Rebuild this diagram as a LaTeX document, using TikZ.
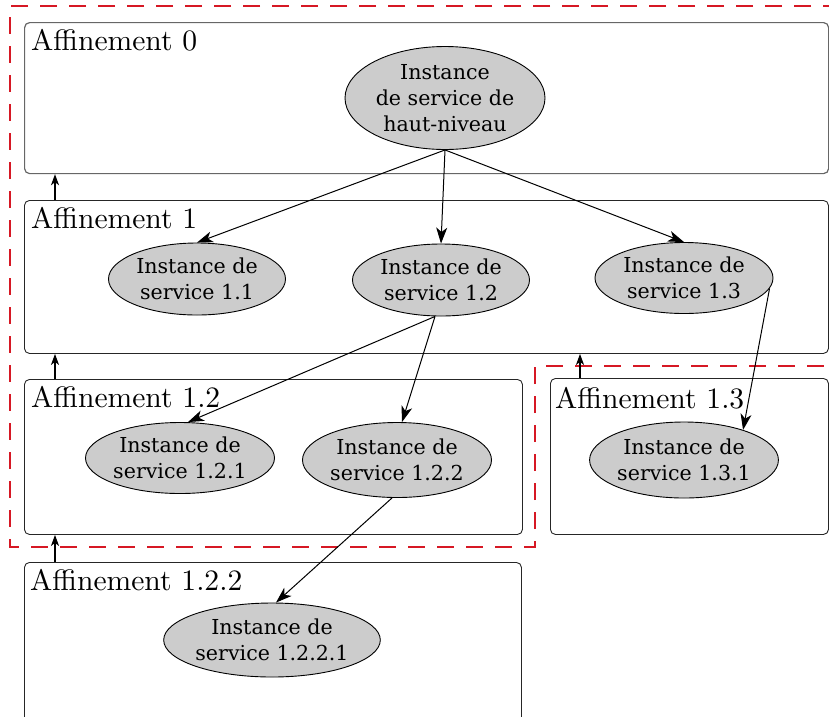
\documentclass[tikz,border=0pt]{standalone}
\usepackage{fontspec}
\newfontfamily\ellfont{DejaVu Serif}
\newfontfamily\lmten{lmroman10-regular.otf}
\usetikzlibrary{shapes.geometric,arrows.meta}
\definecolor{dashred}{RGB}{214,24,36}
\begin{document}
\begin{tikzpicture}[x=1pt,y=-1pt,
  level/.style={draw=black!85, line width=0.9pt, rounded corners=5pt, anchor=north west, inner sep=0pt},
  lvlabel/.style={anchor=base west, inner sep=0pt, font=\lmten\fontsize{29.6}{35}\selectfont},
  inst/.style={ellipse, draw=black, line width=0.9pt, fill=black!20, inner sep=0pt, align=center, font=\ellfont\fontsize{20.6}{26}\selectfont},
  link/.style={-{Stealth[length=16pt,width=11pt,inset=4.5pt]}, line width=1pt},
  upward/.style={-{Stealth[length=11pt,width=8pt,inset=3pt]}, line width=1.3pt},
  zone/.style={draw=dashred, line width=1.3pt, dash pattern=on 17pt off 12pt}]
\useasboundingbox (0,0) rectangle (829,716);
\clip (0,0) rectangle (829,716);

% red dashed zone
\draw[zone] (840,6) -- (10,6) -- (10,547) -- (535,547) -- (535,366) -- (840,366);

% refinement boxes
\node[level, draw=black!60, line width=1.2pt, minimum width=804pt, minimum height=151pt] (b0) at (24,22) {};
\node[level, minimum width=804pt, minimum height=153pt] (b1) at (24,200) {};
\node[level, minimum width=498pt, minimum height=155pt] (b12) at (24,379) {};
\node[level, minimum width=278pt, minimum height=156pt] (b13) at (550,378) {};
\node[level, minimum width=497pt, minimum height=200pt] (b122) at (24,562) {};

% labels
\node[lvlabel] (l0) at (31,50) {Affinement 0};
\node[lvlabel] (l1) at (31,228) {Affinement 1};
\node[lvlabel] (l12) at (31,407) {Affinement 1.2};
\node[lvlabel] (l13) at (555,408) {Affinement 1.3};
\node[lvlabel] (l122) at (30,590) {Affinement 1.2.2};

% upward arrows between boxes
\draw[upward] ([xshift=31pt]b1.north west) -- ([xshift=31pt]b1.north west |- b0.south);
\draw[upward] ([xshift=31pt]b12.north west) -- ([xshift=31pt]b12.north west |- b1.south);
\draw[upward] ([xshift=31pt]b122.north west) -- ([xshift=31pt]b122.north west |- b12.south);
\draw[upward] ([xshift=30pt]b13.north west) -- ([xshift=30pt]b13.north west |- b1.south);

% service instances
\node[inst, minimum width=200pt, minimum height=103pt] (top) at (445,98) {Instance\\de service de\\haut-niveau};
\node[inst, minimum width=177pt, minimum height=72pt] (n11) at (197,279) {Instance de\\service 1.1};
\node[inst, minimum width=177pt, minimum height=72pt] (n12) at (441,280) {Instance de\\service 1.2};
\node[inst, minimum width=178pt, minimum height=71pt] (n13) at (684,278) {Instance de\\service 1.3};
\node[inst, minimum width=189pt, minimum height=71pt] (n121) at (180,458) {Instance de\\service 1.2.1};
\node[inst, minimum width=189pt, minimum height=75pt] (n122) at (397,460) {Instance de\\service 1.2.2};
\node[inst, minimum width=177pt, minimum height=76pt] (n131) at (684,460) {Instance de\\service 1.3.1};
\node[inst, minimum width=208pt, minimum height=74pt] (n1221) at (272,640) {Instance de\\service 1.2.2.1};

% connectors
\draw[link] (top.south) -- (n11.north);
\draw[link] (top.south) -- (n12.north);
\draw[link] (top.south) -- (n13.north);
\draw[link] ([xshift=-6pt]n12.south) -- ([xshift=8pt]n121.north);
\draw[link] ([xshift=-6pt]n12.south) -- ([xshift=5pt]n122.north);
\draw[link] (n13.-7) -- (n131.27);
\draw[link] ([xshift=-5pt]n122.south) -- ([xshift=4pt]n1221.north);
\end{tikzpicture}
\end{document}
